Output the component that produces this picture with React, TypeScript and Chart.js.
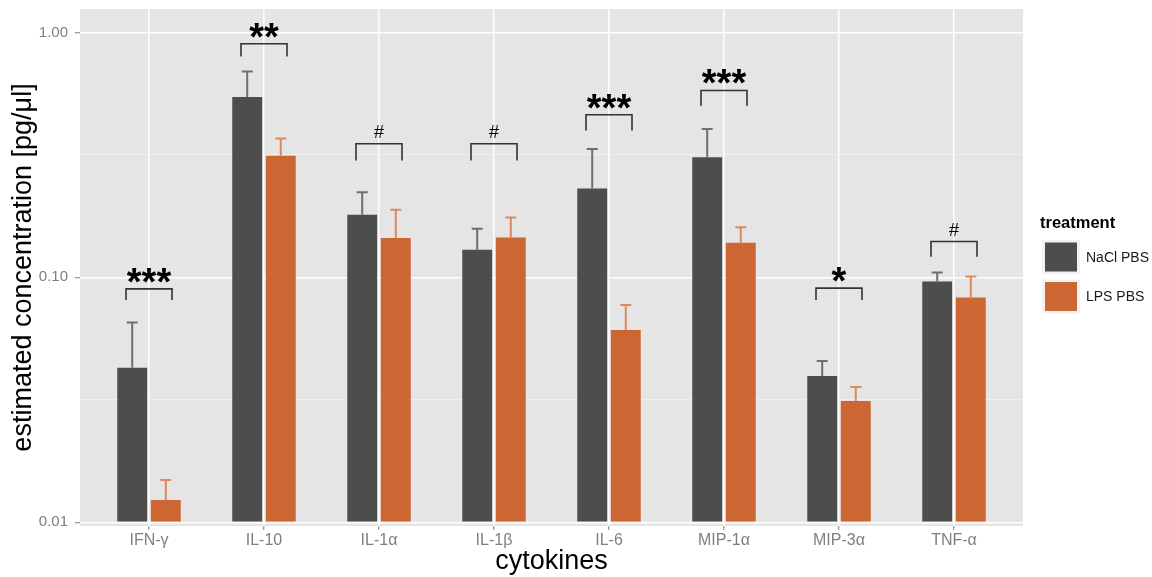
import React, { useEffect, useRef } from "react";
import { Chart, registerables } from "chart.js";

Chart.register(...registerables);

// ---------------- data ----------------
const categories = ["IFN-γ", "IL-10", "IL-1α", "IL-1β", "IL-6", "MIP-1α", "MIP-3α", "TNF-α"];
const seriesNames = ["NaCl PBS", "LPS PBS"];
const naclMean = [0.0428, 0.545, 0.18, 0.1295, 0.2305, 0.309, 0.0396, 0.0961];
const naclUpper = [0.0654, 0.693, 0.2225, 0.158, 0.334, 0.403, 0.0456, 0.1046];
const lpsMean = [0.01233, 0.3135, 0.1446, 0.1454, 0.061, 0.1383, 0.0313, 0.0827];
const lpsUpper = [0.0149, 0.369, 0.189, 0.1755, 0.0772, 0.1603, 0.0357, 0.1008];
const sigLabels = ["***", "**", "#", "#", "***", "***", "*", "#"];
const bracketTop = [0.0897, 0.899, 0.351, 0.351, 0.461, 0.5795, 0.0904, 0.14];
const bracketFoot = [0.0809, 0.798, 0.3, 0.3, 0.398, 0.502, 0.0809, 0.1213];
const yMajorTicks = [0.01, 0.1, 1];
const yMajorLabels = ["0.01", "0.10", "1.00"];
const yMinorTicks = [0.0316228, 0.316228];
const Y_MIN = 0.00966;
const Y_MAX = 1.246;
const BAR_BASE = 0.01;

// ---------------- style ----------------
const FONT = "'Liberation Sans', Arial, Helvetica, sans-serif";
const DARK = "#4D4D4D";
const ORANGE = "#CC6633";
const DARK_ERR = "#6E6E6E";
const ORANGE_ERR = "#DB8A5E";
const PANEL = "#E5E5E5";
const AXIS_TEXT = "#7F7F7F";

const isMajor = (v: number) => yMajorTicks.some((m) => Math.abs(m - v) / m < 1e-6);

const ggPlugin = {
  id: "ggStyle",
  beforeDraw(chart: any) {
    const { ctx, chartArea: a } = chart;
    ctx.save();
    ctx.fillStyle = PANEL;
    ctx.fillRect(a.left, a.top, a.right - a.left, a.bottom - a.top);
    ctx.restore();
  },
  afterDatasetsDraw(chart: any) {
    const ctx = chart.ctx as CanvasRenderingContext2D;
    const ys = chart.scales.y;
    const xs = chart.scales.x;
    const errs = [naclUpper, lpsUpper];
    const errColors = [DARK_ERR, ORANGE_ERR];
    ctx.save();
    ctx.lineWidth = 2;
    ctx.lineCap = "butt";
    [0, 1].forEach((di) => {
      const meta = chart.getDatasetMeta(di);
      meta.data.forEach((el: any, i: number) => {
        const yT = ys.getPixelForValue(errs[di][i]);
        ctx.strokeStyle = errColors[di];
        ctx.beginPath();
        ctx.moveTo(el.x, el.y);
        ctx.lineTo(el.x, yT);
        ctx.moveTo(el.x - 5.5, yT);
        ctx.lineTo(el.x + 5.5, yT);
        ctx.stroke();
      });
    });
    // significance brackets
    ctx.strokeStyle = "#333333";
    ctx.lineWidth = 1.6;
    categories.forEach((_, i) => {
      const xl = xs.getPixelForValue(i - 0.2);
      const xr = xs.getPixelForValue(i + 0.2);
      const yt = ys.getPixelForValue(bracketTop[i]);
      const yf = ys.getPixelForValue(bracketFoot[i]);
      ctx.beginPath();
      ctx.moveTo(xl, yf);
      ctx.lineTo(xl, yt);
      ctx.lineTo(xr, yt);
      ctx.lineTo(xr, yf);
      ctx.stroke();
      const lab = sigLabels[i];
      const star = lab.includes("*");
      ctx.font = star ? `bold 38px ${FONT}` : `18px ${FONT}`;
      ctx.fillStyle = "#000000";
      ctx.textAlign = "center";
      ctx.textBaseline = "alphabetic";
      const m = ctx.measureText(lab);
      const base = yt - 6 - m.actualBoundingBoxDescent;
      ctx.fillText(lab, xs.getPixelForValue(i), base);
    });
    ctx.restore();
  },
  afterDraw(chart: any) {
    const ctx = chart.ctx as CanvasRenderingContext2D;
    const a = chart.chartArea;
    ctx.save();
    // axis titles
    ctx.fillStyle = "#000000";
    ctx.font = `27px ${FONT}`;
    ctx.textAlign = "center";
    ctx.textBaseline = "alphabetic";
    ctx.fillText("cytokines", (a.left + a.right) / 2, 569);
    ctx.save();
    ctx.translate(31, (a.top + a.bottom) / 2);
    ctx.rotate(-Math.PI / 2);
    ctx.fillText("estimated concentration [pg/μl]", 0, 0);
    ctx.restore();

    // legend
    ctx.textAlign = "left";
    ctx.font = `bold 16.5px ${FONT}`;
    ctx.fillStyle = "#000000";
    ctx.fillText("treatment", 1040, 228);
    const colors = [DARK, ORANGE];
    const centers = [257, 296.5];
    seriesNames.forEach((name, k) => {
      const cy = centers[k];
      ctx.fillStyle = "#F2F2F2";
      ctx.fillRect(1042, cy - 17, 38, 34);
      ctx.fillStyle = colors[k];
      ctx.fillRect(1045, cy - 14.5, 32, 29);
      ctx.fillStyle = "#1A1A1A";
      ctx.font = `14px ${FONT}`;
      ctx.textBaseline = "middle";
      ctx.fillText(name, 1086, cy + 1);
      ctx.textBaseline = "alphabetic";
    });
    ctx.restore();
  },
};

export default function App() {
  const ref = useRef<HTMLCanvasElement>(null);
  useEffect(() => {
    document.body.style.margin = "0";
    Chart.defaults.font.family = FONT;
    const canvas = ref.current!;
    const chart = new Chart(canvas, {
      type: "bar",
      data: {
        datasets: [
          {
            label: seriesNames[0],
            data: categories.map((_, i) => ({ x: i, y: naclMean[i] })),
            backgroundColor: DARK,
            borderWidth: 0,
            base: BAR_BASE,
            categoryPercentage: 0.584,
            barPercentage: 0.89,
          } as any,
          {
            label: seriesNames[1],
            data: categories.map((_, i) => ({ x: i, y: lpsMean[i] })),
            backgroundColor: ORANGE,
            borderWidth: 0,
            base: BAR_BASE,
            categoryPercentage: 0.584,
            barPercentage: 0.89,
          } as any,
        ],
      },
      options: {
        animation: false,
        responsive: true,
        maintainAspectRatio: false,
        layout: { padding: { top: 9, right: 129, left: 0, bottom: 0 } },
        plugins: { legend: { display: false }, tooltip: { enabled: false } },
        scales: {
          x: {
            type: "linear",
            min: -0.6,
            max: 7.6,
            offset: false,
            afterBuildTicks: (s: any) => {
              s.ticks = categories.map((_, i) => ({ value: i }));
            },
            afterFit: (s: any) => {
              s.height = 51;
              s.paddingLeft = 0;
              s.paddingRight = 0;
            },
            grid: {
              offset: false,
              color: "#FFFFFF",
              lineWidth: 1.5,
              tickColor: AXIS_TEXT,
              tickLength: 4,
              tickWidth: 1,
            },
            border: { display: false },
            ticks: {
              callback: (v: any) => categories[v as number] ?? "",
              color: AXIS_TEXT,
              font: { size: 16, family: FONT },
              padding: 1,
              autoSkip: false,
              maxRotation: 0,
            },
          } as any,
          y: {
            type: "logarithmic",
            min: Y_MIN,
            max: Y_MAX,
            afterBuildTicks: (s: any) => {
              s.ticks = [...yMajorTicks, ...yMinorTicks]
                .sort((p, q) => p - q)
                .map((v) => ({ value: v }));
            },
            afterFit: (s: any) => {
              s.width = 80;
              s.paddingTop = 0;
              s.paddingBottom = 0;
            },
            grid: {
              color: (c: any) => (isMajor(c.tick.value) ? "#FFFFFF" : "#F2F2F2"),
              lineWidth: (c: any) => (isMajor(c.tick.value) ? 1.5 : 0.8),
              tickColor: (c: any) => (isMajor(c.tick.value) ? AXIS_TEXT : "rgba(0,0,0,0)"),
              tickLength: 5,
              tickWidth: 1,
            },
            border: { display: false },
            ticks: {
              callback: (v: any) => {
                const idx = yMajorTicks.findIndex((m) => Math.abs(m - v) / m < 1e-6);
                return idx >= 0 ? yMajorLabels[idx] : "";
              },
              color: AXIS_TEXT,
              font: { size: 15, family: FONT },
              padding: 7,
              autoSkip: false,
            },
          } as any,
        },
      },
      plugins: [ggPlugin],
    });
    return () => chart.destroy();
  }, []);
  return (
    <div style={{ width: 1152, height: 577, position: "relative" }}>
      <canvas ref={ref} />
    </div>
  );
}
